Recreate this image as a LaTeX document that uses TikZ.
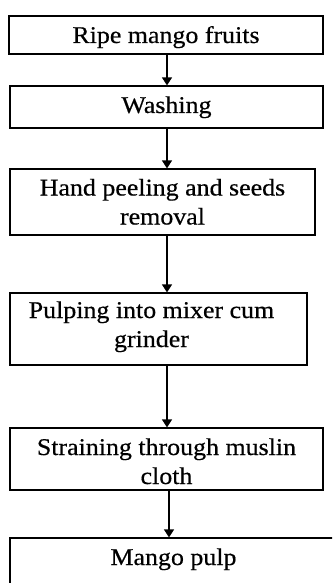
\documentclass[tikz,border=0pt]{standalone}
\usepackage{fontspec}
\setmainfont[FakeStretch=1.08,FakeBold=0.5]{Liberation Serif}
\usetikzlibrary{arrows.meta}
\begin{document}
\begin{tikzpicture}[x=1pt,y=-1pt,
  box/.style={draw=black, line width=1.2pt, inner sep=0pt, align=center,
    font=\fontsize{24}{29}\selectfont},
  arr/.style={draw=black, line width=1.3pt, -{Triangle[length=8pt,width=10pt]}}]
\useasboundingbox (0,0) rectangle (332,583);
\begin{scope}
\clip (0,0) rectangle (332,583);
\node[box, minimum width=314pt, minimum height=38pt] (b1) at (166,35)
  {\rule[-6pt]{0pt}{28pt}Ripe mango fruits};
\node[box, minimum width=313pt, minimum height=42pt] (b2) at (166.5,107)
  {\rule[-10pt]{0pt}{32pt}Washing};
\node[box, minimum width=305pt, minimum height=66pt] (b3) at (162.5,202)
  {\rule{0pt}{22pt}Hand peeling and seeds\\\rule[-6pt]{0pt}{6pt}removal};
\node[box, minimum width=297pt, minimum height=72pt] (b4) at (158.5,329)
  {\rule{0pt}{22pt}Pulping into mixer cum\hspace*{14pt}\\\rule[-15pt]{0pt}{15pt}grinder\hspace*{14pt}};
\node[box, minimum width=313pt, minimum height=62pt] (b5) at (166.5,459)
  {\rule{0pt}{27pt}Straining through muslin\\\rule[-6pt]{0pt}{6pt}cloth};
\node[box, minimum width=327pt, minimum height=62pt] (b6) at (173.5,569)
  {\rule[-30pt]{0pt}{52pt}Mango pulp};
\coordinate (ax) at (167,0);
\coordinate (bx) at (169,0);
\draw[arr] (b1.south -| ax) -- (b2.north -| ax);
\draw[arr] (b2.south -| ax) -- (b3.north -| ax);
\draw[arr] (b3.south -| ax) -- (b4.north -| ax);
\draw[arr] (b4.south -| ax) -- (b5.north -| ax);
\draw[arr] (b5.south -| bx) -- (b6.north -| bx);
\end{scope}
\end{tikzpicture}
\end{document}
